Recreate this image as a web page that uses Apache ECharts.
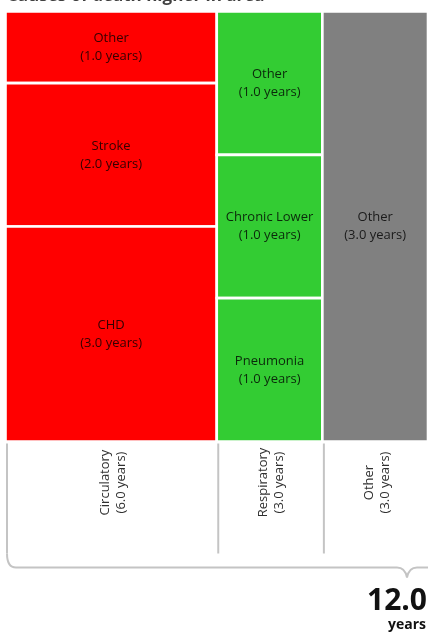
<!DOCTYPE html>
<html>
<head>
<meta charset="utf-8">
<script src="https://cdn.jsdelivr.net/npm/echarts@6/dist/echarts.min.js"></script>
<style>
  html, body { margin: 0; padding: 0; background: #ffffff; }
  #chart { width: 428px; height: 640px; }
</style>
</head>
<body>
<div id="chart"></div>
<script>
// Years of life lost, by broad group and by cause within each group
const groupNames = ['Circulatory', 'Respiratory', 'Other'];
const groupColors = ['#ff0000', '#33cc33', '#808080'];

const circulatoryCauses = ['Other', 'Stroke', 'CHD'];
const circulatoryYears = [1.0, 2.0, 3.0];

const respiratoryCauses = ['Other', 'Chronic Lower', 'Pneumonia'];
const respiratoryYears = [1.0, 1.0, 1.0];

const otherCauses = ['Other'];
const otherYears = [3.0];

const groupCauses = [circulatoryCauses, respiratoryCauses, otherCauses];
const groupYears = [circulatoryYears, respiratoryYears, otherYears];
const groupTotals = groupYears.map(a => a.reduce((s, v) => s + v, 0));
const grandTotal = groupTotals.reduce((s, v) => s + v, 0);

// Marimekko layout: column width = group total, cell height = share of the group
const cells = [];
const columns = [];
let xStart = 0;
groupNames.forEach((g, i) => {
  const total = groupTotals[i];
  let yStart = 0;
  groupCauses[i].forEach((c, j) => {
    const v = groupYears[i][j];
    cells.push({ name: c, value: [xStart, xStart + total, yStart / total, (yStart + v) / total, v, i] });
    yStart += v;
  });
  columns.push({ name: g, value: [xStart, xStart + total, total, i] });
  xStart += total;
});

const FONT = '"Open Sans", "Noto Sans", sans-serif';

const chart = echarts.init(document.getElementById('chart'), null, { renderer: 'canvas' });

chart.setOption({
  animation: false,
  backgroundColor: '#ffffff',
  grid: { left: 5.5, top: 11.5, width: 426, height: 430 },
  xAxis: { type: 'value', min: 0, max: grandTotal, show: false },
  yAxis: { type: 'value', min: 0, max: 1, inverse: true, show: false },
  series: [
    {
      type: 'custom',
      clip: false,
      data: cells,
      renderItem: function (params, api) {
        const p0 = api.coord([api.value(0), api.value(2)]);
        const p1 = api.coord([api.value(1), api.value(3)]);
        const idx = api.value(5);
        const name = cells[params.dataIndex].name;
        return {
          type: 'rect',
          shape: { x: p0[0], y: p0[1], width: p1[0] - p0[0], height: p1[1] - p0[1] },
          style: { fill: groupColors[idx], stroke: '#ffffff', lineWidth: 2.6 },
          textContent: {
            style: {
              text: name + '\n(' + api.value(4).toFixed(1) + ' years)',
              fill: 'rgba(0,0,0,0.8)',
              font: '13px ' + FONT,
              align: 'center',
              lineHeight: 18
            }
          },
          textConfig: { position: 'inside' }
        };
      }
    },
    {
      type: 'custom',
      clip: false,
      data: columns,
      renderItem: function (params, api) {
        const p0 = api.coord([api.value(0), 1]);
        const p1 = api.coord([api.value(1), 1]);
        const name = columns[params.dataIndex].name;
        return {
          type: 'group',
          children: [
            {
              type: 'line',
              shape: { x1: p0[0] + 1.5, y1: p0[1] + 2, x2: p0[0] + 1.5, y2: p0[1] + 112 },
              style: { stroke: '#c4c4c4', lineWidth: 2 }
            },
            {
              type: 'text',
              x: (p0[0] + p1[0]) / 2 + 2,
              y: p0[1] + 41,
              rotation: Math.PI / 2,
              style: {
                text: name + '\n(' + api.value(2).toFixed(1) + ' years)',
                x: 0, y: 0,
                align: 'center',
                verticalAlign: 'middle',
                fill: '#303030',
                font: '13px ' + FONT,
                lineHeight: 16
              }
            }
          ]
        };
      }
    }
  ]
});

// Brace under the columns with the grand total
const baseLeft = chart.convertToPixel({ gridIndex: 0 }, [0, 1]);
const braceX = baseLeft[0] + 1.5;
const braceTop = baseLeft[1] + 112;
const braceY = braceTop + 14;
const tipX = 407;
const braceStyle = { fill: null, stroke: '#c4c4c4', lineWidth: 2 };
chart.setOption({
  graphic: [
    {
      type: 'text', x: 7, y: 5,
      style: { text: 'Causes of death higher in area', fill: '#404040', font: 'bold 17px ' + FONT, verticalAlign: 'bottom' }
    },
    {
      type: 'bezierCurve',
      shape: { x1: braceX, y1: braceTop, cpx1: braceX, cpy1: braceY, x2: braceX + 9, y2: braceY },
      style: braceStyle
    },
    {
      type: 'line',
      shape: { x1: braceX + 9, y1: braceY, x2: tipX - 10, y2: braceY },
      style: braceStyle
    },
    {
      type: 'bezierCurve',
      shape: { x1: tipX - 10, y1: braceY, cpx1: tipX - 2, cpy1: braceY, x2: tipX, y2: braceY + 10 },
      style: braceStyle
    },
    {
      type: 'bezierCurve',
      shape: { x1: tipX, y1: braceY + 10, cpx1: tipX + 2, cpy1: braceY, x2: tipX + 10, y2: braceY },
      style: braceStyle
    },
    {
      type: 'line',
      shape: { x1: tipX + 10, y1: braceY, x2: 440, y2: braceY },
      style: braceStyle
    },
    {
      type: 'text', x: 427, y: 586,
      style: { text: grandTotal.toFixed(1), fill: '#111111', font: 'bold 30px ' + FONT, align: 'right' }
    },
    {
      type: 'text', x: 426, y: 618,
      style: { text: 'years', fill: '#111111', font: 'bold 14px ' + FONT, align: 'right' }
    }
  ]
});
</script>
</body>
</html>
